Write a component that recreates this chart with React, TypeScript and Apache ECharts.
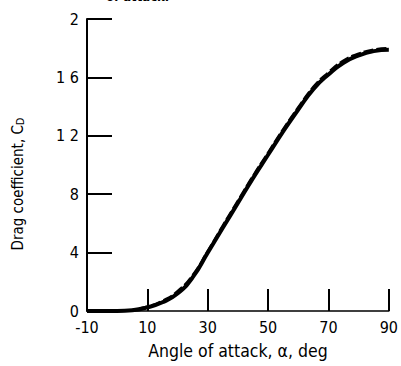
import React, { useEffect, useRef } from "react";
import * as echarts from "echarts";

const alphaDeg = [-10, -5, 0, 5, 10, 15, 20, 25, 30, 35, 40, 45, 50, 55, 60, 65, 70, 75, 80, 85, 90];
const dragCoef = [0, 0, 0, 0.005, 0.025, 0.06, 0.12, 0.23, 0.4, 0.57, 0.74, 0.91, 1.07, 1.23, 1.38, 1.52, 1.62, 1.7, 1.75, 1.78, 1.79];
const dragCoefDashed = [0, 0, 0, 0.007, 0.03, 0.07, 0.135, 0.245, 0.41, 0.585, 0.755, 0.925, 1.085, 1.245, 1.395, 1.535, 1.635, 1.715, 1.762, 1.79, 1.8];
const yTickLabels: Record<string, string> = { "0": "0", "0.4": "4", "0.8": "8", "1.2": "1 2", "1.6": "1 6", "2": "2" };

const FONT = "'DejaVu Sans Condensed', 'Liberation Sans Narrow', sans-serif";

export default function App() {
  const ref = useRef<HTMLDivElement>(null);
  useEffect(() => {
    if (!ref.current) return;
    const chart = echarts.init(ref.current, undefined, { renderer: "svg" });
    chart.setOption({
      animation: false,
      backgroundColor: "#fff",
      grid: { left: 87, right: 9, top: 19, bottom: 55 },
      graphic: [
        {
          type: "text",
          left: 106,
          top: -10,
          style: { text: "of attack.", font: `bold 13px ${FONT}`, fill: "#000" },
        },
      ],
      xAxis: {
        type: "value",
        min: -10,
        max: 90,
        interval: 20,
        name: "Angle of attack, α, deg",
        nameLocation: "middle",
        nameGap: 31,
        nameTextStyle: { fontFamily: FONT, fontSize: 17.5, color: "#000" },
        axisLine: { show: true, onZero: false, lineStyle: { color: "#000", width: 1.5 } },
        axisTick: { show: true, inside: true, length: 22, lineStyle: { color: "#000", width: 2 } },
        axisLabel: { fontFamily: FONT, fontSize: 16, color: "#000", margin: 8, showMinLabel: true, showMaxLabel: true },
        splitLine: { show: false },
      },
      yAxis: {
        type: "value",
        min: 0,
        max: 2,
        interval: 0.4,
        name: "Drag coefficient, C{sub|D}",
        nameLocation: "middle",
        nameGap: 62,
        nameRotate: 90,
        nameTextStyle: {
          fontFamily: FONT,
          fontSize: 15,
          color: "#000",
          padding: [0, 38, 0, 0],
          rich: { sub: { fontFamily: FONT, fontSize: 11, color: "#000", padding: [0, 0, -6, 0] } },
        },
        axisLine: { show: true, onZero: false, lineStyle: { color: "#000", width: 2 } },
        axisTick: { show: true, inside: true, length: 25, lineStyle: { color: "#000", width: 2 } },
        axisLabel: {
          fontFamily: FONT,
          fontSize: 16,
          color: "#000",
          margin: 8,
          formatter: (v: number) => yTickLabels[String(Math.round(v * 10) / 10)] ?? "",
        },
        splitLine: { show: false },
      },
      series: [
        {
          type: "line",
          data: alphaDeg.map((a, i) => [a, dragCoef[i]]),
          smooth: true,
          symbol: "none",
          lineStyle: { color: "#000", width: 4 },
          z: 2,
        },
        {
          type: "line",
          data: alphaDeg.map((a, i) => [a, dragCoefDashed[i]]),
          smooth: true,
          symbol: "none",
          lineStyle: { color: "#000", width: 2.5, type: [10, 3] },
          z: 3,
        },
      ],
    });
    return () => chart.dispose();
  }, []);
  return <div ref={ref} style={{ width: 401, height: 366, position: "absolute", left: 0, top: 0 }} />;
}
